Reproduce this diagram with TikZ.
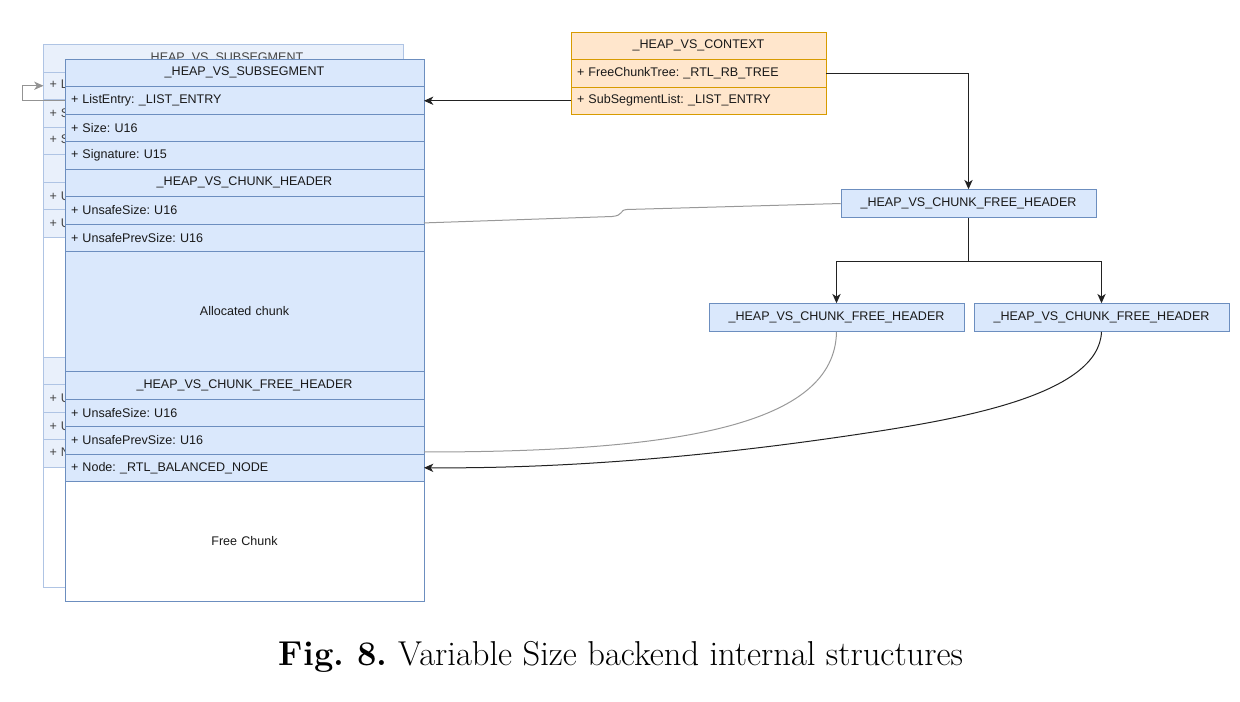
\documentclass[tikz,border=0pt]{standalone}
\usepackage{fontspec}
\usetikzlibrary{arrows.meta}
\newfontfamily\dfont{Liberation Sans}
\frenchspacing
\definecolor{blueF}{HTML}{DAE8FC}
\definecolor{blueS}{HTML}{6C8EBF}
\definecolor{fadeF}{HTML}{E9F0FB}
\definecolor{fadeS}{HTML}{AFC4E4}
\definecolor{orF}{HTML}{FFE6CC}
\definecolor{orS}{HTML}{D79B00}
\definecolor{lineK}{HTML}{222222}
\definecolor{lineG}{HTML}{999999}
\definecolor{txtG}{HTML}{444444}
\tikzset{
  cell/.style={anchor=north west, inner xsep=4.5pt, inner ysep=0pt, outer sep=0pt,
    font=\dfont\fontsize{9.4}{11}\selectfont, text=black!90, minimum height=#1*0.75pt},
  cell/.default=27.5,
  frontL/.style={cell=#1, draw=blueS, fill=blueF, minimum width=269.25pt, text width=260.25pt, align=left},
  frontL/.default=27.5,
  frontC/.style={cell=#1, draw=blueS, fill=blueF, minimum width=269.25pt, text width=260.25pt, align=center},
  frontC/.default=27.5,
  backL/.style={cell=#1, draw=fadeS, fill=fadeF, minimum width=270pt, text width=261pt, align=left, text=txtG},
  backL/.default=27.5,
  backC/.style={cell=#1, draw=fadeS, fill=fadeF, minimum width=270pt, text width=261pt, align=center, text=txtG},
  backC/.default=27.5,
  ctxL/.style={cell=#1, draw=orS, fill=orF, minimum width=191.25pt, text width=182.25pt, align=left},
  ctxL/.default=27.5,
  ctxC/.style={cell=#1, draw=orS, fill=orF, minimum width=191.25pt, text width=182.25pt, align=center},
  ctxC/.default=27.5,
  freehdr/.style={draw=blueS, fill=blueF, minimum width=191.25pt, minimum height=21pt, inner sep=0pt,
    font=\dfont\fontsize{9.4}{11}\selectfont, text=black!90},
  arr/.style={draw=lineK, line width=0.75pt, -{Stealth[length=7pt,width=6.2pt,inset=2pt]}},
  plain/.style={draw=lineK, line width=0.75pt},
  greyline/.style={draw=lineG, line width=0.75pt},
  looparr/.style={draw=gray!85, line width=0.75pt, -{Stealth[length=7pt,width=6.2pt,inset=2pt]}}
}
\begin{document}
\begin{tikzpicture}[x=0.75pt,y=-0.75pt]
\useasboundingbox (0,0) rectangle (1240,701);

% background (faded) subsegment
\node[backC=28] (b0) at (43.5,44) {\_HEAP\_VS\_SUBSEGMENT};
\node[backL] (b1) at (43.5,72) {+ ListEntry: \_LIST\_ENTRY};
\node[backL] (b2) at (43.5,99.5) {+ Size: U16};
\node[backL] (b3) at (43.5,127) {+ Signature: U15};
\node[backC] (b4) at (43.5,154.5) {\_HEAP\_VS\_CHUNK\_HEADER};
\node[backL] (b5) at (43.5,182) {+ UnsafeSize: U16};
\node[backL] (b6) at (43.5,209.5) {+ UnsafePrevSize: U16};
\node[backC=120, fill=white] (b7) at (43.5,237) {};
\node[backC] (b8) at (43.5,357) {\_HEAP\_VS\_CHUNK\_FREE\_HEADER};
\node[backL] (b9) at (43.5,384.5) {+ UnsafeSize: U16};
\node[backL] (b10) at (43.5,412) {+ UnsafePrevSize: U16};
\node[backL] (b11) at (43.5,439.5) {+ Node: \_RTL\_BALANCED\_NODE};
\node[backC=120, fill=white] (b12) at (43.5,467) {};

% front subsegment
\node[frontC] (f0) at (65,59) {\_HEAP\_VS\_SUBSEGMENT};
\node[frontL] (f1) at (65,86.5) {+ ListEntry: \_LIST\_ENTRY};
\node[frontL] (f2) at (65,114) {+ Size: U16};
\node[frontL] (f3) at (65,141.5) {+ Signature: U15};
\node[frontC] (f4) at (65,169) {\_HEAP\_VS\_CHUNK\_HEADER};
\node[frontL] (f5) at (65,196.5) {+ UnsafeSize: U16};
\node[frontL] (f6) at (65,224) {+ UnsafePrevSize: U16};
\node[frontC=120] (f7) at (65,251.5) {Allocated chunk};
\node[frontC] (f8) at (65,371.5) {\_HEAP\_VS\_CHUNK\_FREE\_HEADER};
\node[frontL] (f9) at (65,399) {+ UnsafeSize: U16};
\node[frontL] (f10) at (65,426.5) {+ UnsafePrevSize: U16};
\node[frontL] (f11) at (65,454) {+ Node: \_RTL\_BALANCED\_NODE};
\node[frontC=120, fill=white] (f12) at (65,481.5) {Free Chunk};

% context
\node[ctxC] (c0) at (571,32) {\_HEAP\_VS\_CONTEXT};
\node[ctxL] (c1) at (571,59.5) {+ FreeChunkTree: \_RTL\_RB\_TREE};
\node[ctxL] (c2) at (571,87) {+ SubSegmentList: \_LIST\_ENTRY};

% free header tree
\node[freehdr] (n1) at (968.5,203.5) {\_HEAP\_VS\_CHUNK\_FREE\_HEADER};
\node[freehdr] (n2) at (836.5,317.5) {\_HEAP\_VS\_CHUNK\_FREE\_HEADER};
\node[freehdr] (n3) at (1101.5,317.5) {\_HEAP\_VS\_CHUNK\_FREE\_HEADER};
\coordinate (br) at (968.5,261);

% connectors
\draw[looparr] (f1.west) -- ++(-43,0) |- (b1.west);
\draw[arr] (c2.west) -- (c2.west -| f1.east);
\draw[arr] (c1.east) -| (n1.north);
\draw[plain] (n1.south) -- (br);
\draw[arr] (br) -| (n2.north);
\draw[arr] (br) -| (n3.north);
\draw[greyline] (n1.west) -- (627,209.5) .. controls (619,210) and (624,215.5) .. (612,216.5) -- ([yshift=-9.5pt]f5.east);
\draw[greyline] (n2.south) .. controls (835,425) and (680,452) .. ([yshift=-8.8pt]f10.east);
\draw[arr] (n3.south) .. controls (1099,395) and (960,419) .. (860,434) .. controls (760,449) and (600,469) .. (f11.east);

% caption
\node[anchor=base, inner sep=0pt, font=\fontsize{25.9}{30}\selectfont] (cap) at (621,665) {\textbf{Fig.~8.} Variable Size backend internal structures};
\end{tikzpicture}
\end{document}
